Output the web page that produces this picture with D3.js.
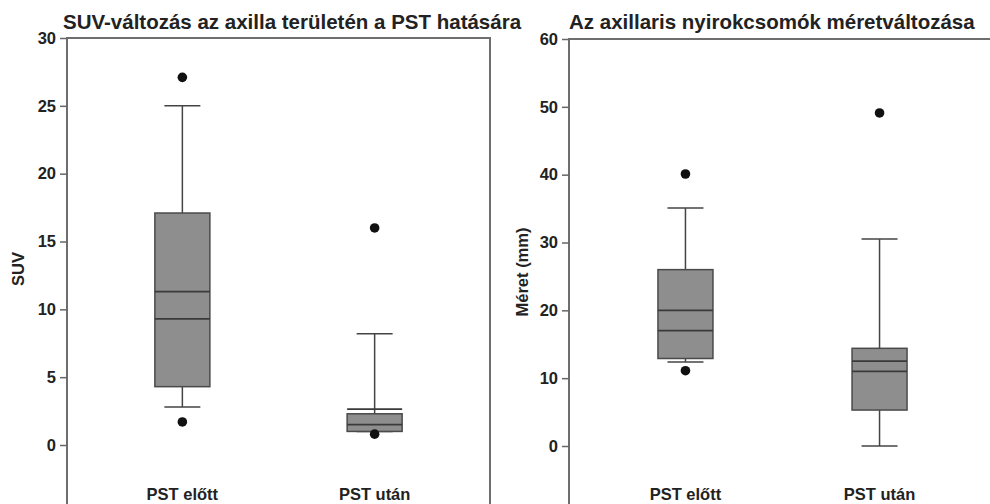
<!DOCTYPE html>
<html>
<head>
<meta charset="utf-8">
<script src="https://cdn.jsdelivr.net/npm/d3@7"></script>
<style>
  body { margin: 0; background: #fff; }
  svg { display: block; font-family: Arial, "Liberation Sans", sans-serif; }
  .tick line { stroke: #666; stroke-width: 1.5; }
  .tick text { font-size: 16.5px; font-weight: bold; fill: #222; }
</style>
</head>
<body>
<div id="chart"></div>
<script>
// Set Dimensions
const width = 990;
const height = 504;

// Box groups
const categories = ["PST előtt", "PST után"];

// Left panel: SUV
const suvTicks = [0, 5, 10, 15, 20, 25, 30];
const suvQ1 = [4.3, 1.0];
const suvQ3 = [17.1, 2.3];
const suvMedian = [9.3, 1.5];
const suvMean = [11.3, 2.65];
const suvLow = [2.8, 1.0];
const suvHigh = [25, 8.2];
const suvOutliers = [[27.1, 1.7], [16.0, 0.8]];

// Right panel: size in mm
const sizeTicks = [0, 10, 20, 30, 40, 50, 60];
const sizeQ1 = [12.9, 5.3];
const sizeQ3 = [26.0, 14.4];
const sizeMedian = [17.0, 11.0];
const sizeMean = [20.0, 12.5];
const sizeLow = [12.4, 0];
const sizeHigh = [35.1, 30.5];
const sizeOutliers = [[40.1, 11.1], [49.1]];

const svg = d3.select("#chart")
  .append("svg")
  .attr("width", width)
  .attr("height", height);

function drawPanel(opt) {
  const g = svg.append("g");

  const x = d3.scalePoint()
    .domain(categories)
    .range([opt.left, opt.right])
    .padding(0.6);

  const y = d3.scaleLinear()
    .domain(opt.domain)
    .range([opt.bottomY, opt.topY]);

  // frame (bottom is cut off by the picture)
  g.append("path")
    .attr("d", "M" + opt.left + "," + (height + 5) + "V" + opt.topY + "H" + opt.right + "V" + (height + 5))
    .attr("fill", "none")
    .attr("stroke", "#6e6e6e")
    .attr("stroke-width", 2);

  // Y Axis
  g.append("g")
    .attr("transform", "translate(" + opt.left + ",0)")
    .call(d3.axisLeft(y).tickValues(opt.ticks).tickSize(7).tickPadding(4))
    .call(a => a.select(".domain").remove());

  const boxW = 55;
  const capW = 36;

  categories.forEach((c, i) => {
    const cx = x(c);
    // whiskers
    g.append("line")
      .attr("x1", cx).attr("x2", cx)
      .attr("y1", y(opt.high[i])).attr("y2", y(opt.q3[i]))
      .attr("stroke", "#444").attr("stroke-width", 1.5);
    g.append("line")
      .attr("x1", cx).attr("x2", cx)
      .attr("y1", y(opt.low[i])).attr("y2", y(opt.q1[i]))
      .attr("stroke", "#444").attr("stroke-width", 1.5);
    [opt.high[i], opt.low[i]].forEach(v => {
      g.append("line")
        .attr("x1", cx - capW / 2).attr("x2", cx + capW / 2)
        .attr("y1", y(v)).attr("y2", y(v))
        .attr("stroke", "#444").attr("stroke-width", 1.5);
    });
    // box
    g.append("rect")
      .attr("x", cx - boxW / 2)
      .attr("y", y(opt.q3[i]))
      .attr("width", boxW)
      .attr("height", y(opt.q1[i]) - y(opt.q3[i]))
      .attr("fill", "#8e8e8e")
      .attr("stroke", "#4a4a4a")
      .attr("stroke-width", 1.5);
    // median and mean lines
    [opt.median[i], opt.mean[i]].forEach(v => {
      g.append("line")
        .attr("x1", cx - boxW / 2).attr("x2", cx + boxW / 2)
        .attr("y1", y(v)).attr("y2", y(v))
        .attr("stroke", "#3a3a3a").attr("stroke-width", 1.8);
    });
    // outliers
    g.selectAll(null)
      .data(opt.outliers[i])
      .enter()
      .append("circle")
      .attr("cx", cx)
      .attr("cy", d => y(d))
      .attr("r", 4.8)
      .attr("fill", "#111");
    // category label
    g.append("text")
      .attr("x", cx)
      .attr("y", 500)
      .attr("text-anchor", "middle")
      .attr("font-size", 16.5)
      .attr("font-weight", "bold")
      .attr("fill", "#222")
      .text(c);
  });

  // title
  g.append("text")
    .attr("x", opt.titleX)
    .attr("y", 29)
    .attr("font-size", 20.5)
    .attr("font-weight", "bold")
    .attr("fill", "#222")
    .text(opt.title);

  // y label
  g.append("text")
    .attr("transform", "translate(" + opt.labelX + "," + opt.labelY + ") rotate(-90)")
    .attr("text-anchor", "middle")
    .attr("dy", "0.35em")
    .attr("font-size", 16.5)
    .attr("font-weight", "bold")
    .attr("fill", "#222")
    .text(opt.label);
}

drawPanel({
  left: 67, right: 490, topY: 38, bottomY: 445,
  domain: [0, 30], ticks: suvTicks,
  q1: suvQ1, q3: suvQ3, median: suvMedian, mean: suvMean,
  low: suvLow, high: suvHigh, outliers: suvOutliers,
  title: "SUV-változás az axilla területén a PST hatására", titleX: 63,
  label: "SUV", labelX: 18, labelY: 269
});

drawPanel({
  left: 569, right: 996, topY: 39, bottomY: 446,
  domain: [0, 60], ticks: sizeTicks,
  q1: sizeQ1, q3: sizeQ3, median: sizeMedian, mean: sizeMean,
  low: sizeLow, high: sizeHigh, outliers: sizeOutliers,
  title: "Az axillaris nyirokcsomók méretváltozása", titleX: 569,
  label: "Méret (mm)", labelX: 522, labelY: 272
});
</script>
</body>
</html>
